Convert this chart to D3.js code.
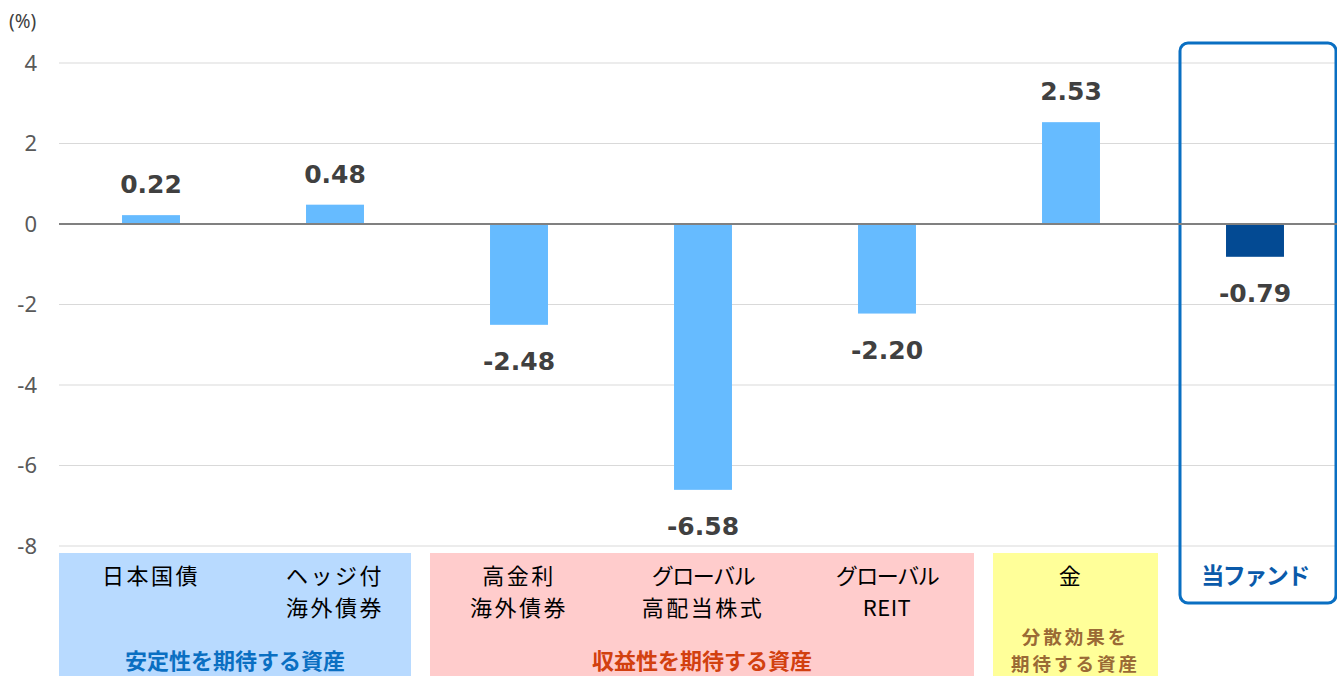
<!DOCTYPE html>
<html><head><meta charset="utf-8">
<script src="https://cdn.jsdelivr.net/npm/d3@7"></script>
<style>
html,body{margin:0;padding:0;background:#fff;}
svg{display:block;}
</style></head>
<body>
<script>
const categories = ["日本国債","ヘッジ付\n海外債券","高金利\n海外債券","グローバル\n高配当株式","グローバル\nREIT","金","当ファンド"];
const values = [0.22, 0.48, -2.48, -6.58, -2.20, 2.53, -0.79];
const yTicks = [4, 2, 0, -2, -4, -6, -8];
const groupLabels = ["安定性を期待する資産", "収益性を期待する資産", "分散効果を\n期待する資産"];
const groupFrom = [0, 2, 5];
const groupTo = [1, 4, 5];

// styles (not data)
const groupStyle = [
  {fill:"#B8DAFF", color:"#0A6FC2", inL:0, inR:16},
  {fill:"#FFCCCC", color:"#D2400F", inL:3, inR:5},
  {fill:"#FFFF99", color:"#9A6A35", inL:14, inR:5}
];
const W = 1337, H = 676;
const svg = d3.select("body").append("svg").attr("width", W).attr("height", H);
const x = d3.scaleBand().domain(categories).range([59, 1347]).paddingInner(0.685).paddingOuter(0.3425);
const y = d3.scaleLinear().domain([-8, 4]).range([546, 63]);
const font = "'Noto Sans CJK JP','Noto Sans',sans-serif";
const cx = i => x(categories[i]) + x.bandwidth()/2;

// grid
svg.append("g").selectAll("line").data(yTicks.filter(d=>d!==0)).join("line")
  .attr("x1", 59).attr("x2", W).attr("y1", d=>y(d)).attr("y2", d=>y(d))
  .attr("stroke", "#d9d9d9").attr("stroke-width", 1);

// y axis labels
const yAxis = d3.axisLeft(y).tickValues(yTicks).tickSize(0).tickPadding(0).tickFormat(d => String(d));
const ga = svg.append("g").attr("transform", "translate(37,0)").call(yAxis);
ga.select(".domain").remove();
ga.selectAll("text").attr("font-family", "'Noto Sans',sans-serif").attr("font-size", 22).attr("fill", "#595959");
svg.append("text").attr("x", 9).attr("y", 28).text("(%)")
  .attr("font-family", "'Noto Sans',sans-serif").attr("font-size", 19).attr("fill", "#404040");

// group boxes
groupLabels.forEach((lab, gi) => {
  const st = groupStyle[gi];
  const c0 = cx(groupFrom[gi]) - x.step()/2 + st.inL;
  const c1 = cx(groupTo[gi]) + x.step()/2 - st.inR;
  svg.append("rect").attr("x", c0).attr("y", 553).attr("width", c1 - c0).attr("height", H - 553)
    .attr("fill", st.fill);
  const lines = lab.split("\n");
  const mx = (c0 + c1)/2;
  const t = svg.append("text").attr("y", lines.length === 1 ? 669 : 644)
    .attr("text-anchor", "middle").attr("font-family", font).attr("font-weight", "bold")
    .attr("font-size", lines.length === 1 ? 22 : 18.5).attr("fill", st.color);
  lines.forEach((s, i) => t.append("tspan").attr("x", mx).attr("dy", i === 0 ? 0 : 27)
    .attr("letter-spacing", lines.length === 1 ? 0 : 3).text(s));
});

// fund box
const fi = categories.length - 1;
svg.append("rect").attr("x", cx(fi) - 75).attr("y", 43).attr("width", 156).attr("height", 560)
  .attr("rx", 8).attr("fill", "none").attr("stroke", "#0A6FC2").attr("stroke-width", 3);

// bars
svg.append("g").selectAll("rect").data(values).join("rect")
  .attr("x", (d,i)=>x(categories[i]))
  .attr("width", x.bandwidth())
  .attr("y", d => d >= 0 ? y(d) : y(0) + 1)
  .attr("height", d => Math.abs(y(d) - y(0)))
  .attr("fill", (d,i)=> i === fi ? "#034A93" : "#66BBFF");

// zero line
svg.append("line").attr("x1", 59).attr("x2", W).attr("y1", y(0)).attr("y2", y(0))
  .attr("stroke", "#808080").attr("stroke-width", 2);

// value labels
svg.append("g").selectAll("text").data(values).join("text")
  .attr("x", (d,i)=>cx(i))
  .attr("y", d => d >= 0 ? y(d) - 22 : y(d) + 46)
  .attr("text-anchor", "middle")
  .attr("font-family", "'DejaVu Sans',sans-serif").attr("font-weight", "bold")
  .attr("font-size", 25).attr("fill", "#404040")
  .text(d => d.toFixed(2));

// category labels (one text element per category, lines as tspans)
categories.forEach((c, i) => {
  const lines = c.split("\n");
  const t = svg.append("text").attr("y", 584).attr("text-anchor", "middle").attr("font-family", font);
  if (i === fi) t.attr("font-weight", "bold").attr("fill", "#0A5AAA").attr("font-size", 23).attr("letter-spacing", -1.5);
  else t.attr("fill", "#000").attr("font-size", 22);
  lines.forEach((s, j) => {
    const sp = t.append("tspan").attr("x", cx(i)).attr("dy", j === 0 ? 0 : 32).text(s);
    if (i !== fi) {
      const ls = /^[\u30A0-\u30FF]+$/.test(s) ? -1.5 : (/^[A-Z]+$/.test(s) ? 0.5 : 2.5);
      sp.attr("letter-spacing", ls);
    }
  });
});
</script>
</body></html>
